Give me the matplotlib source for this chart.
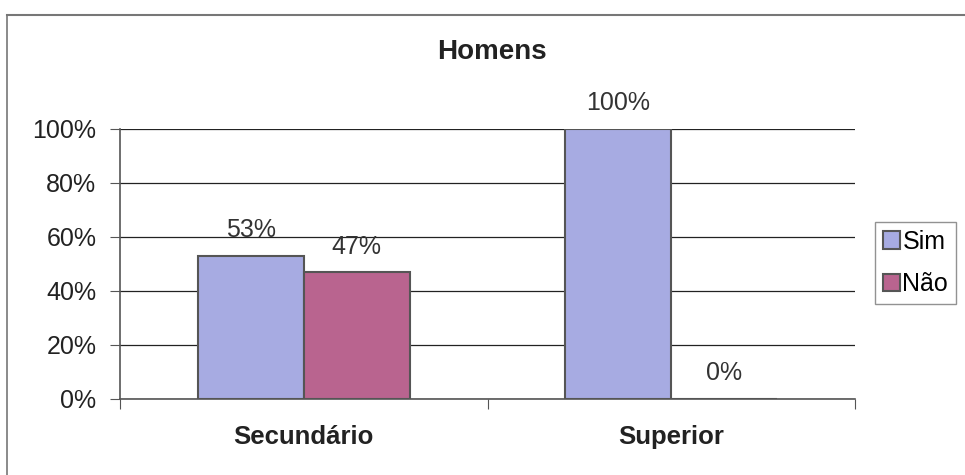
import numpy as np
import matplotlib
matplotlib.use("Agg")
import matplotlib.pyplot as plt
from matplotlib.lines import Line2D

plt.rcParams["font.family"] = ["Liberation Sans", "DejaVu Sans"]

# data
categories = ["Secundário", "Superior"]
series_names = ["Sim", "Não"]
sim_values = [53, 100]
nao_values = [47, 0]
y_ticks = [0, 20, 40, 60, 80, 100]

COLORS = {"Sim": "#A7ABE2", "Não": "#B9648F"}

W, H = 965, 475
fig = plt.figure(figsize=(W / 100, H / 100), dpi=100)

# plot area in pixels: x 120..855, y 129 (100%)..399 (0%)
ax = fig.add_axes([120 / W, 1 - 399 / H, (855 - 120) / W, (399 - 129) / H])

x = np.arange(len(categories))
bw = 0.289
edge = "#555555"
ax.bar(x - bw / 2, sim_values, width=bw, color=COLORS["Sim"], edgecolor=edge, linewidth=1.5, label=series_names[0], zorder=3)
ax.bar(x + bw / 2, nao_values, width=bw, color=COLORS["Não"], edgecolor=edge, linewidth=1.5, label=series_names[1], zorder=3)

# value labels
for i in range(len(categories)):
    ax.text(x[i] - bw / 2, sim_values[i] + 5, f"{sim_values[i]}%", ha="center", va="bottom", fontsize=18, color="#333333")
    ax.text(x[i] + bw / 2, nao_values[i] + 5, f"{nao_values[i]}%", ha="center", va="bottom", fontsize=18, color="#333333")

ax.set_xlim(-0.5, len(categories) - 0.5)
ax.set_ylim(0, 100)
ax.set_yticks(y_ticks)
ax.set_yticklabels([f"{t}%" for t in y_ticks], fontsize=18, color="#222222")
ax.yaxis.grid(True, color="#222222", linewidth=0.9, zorder=0)
ax.set_axisbelow(True)

# category boundary ticks
ax.set_xticks([-0.5, 0.5, 1.5])
ax.set_xticklabels([])
ax.set_xticks(x, minor=True)
ax.set_xticklabels(categories, minor=True, fontsize=18.5, fontweight="bold", color="#222222")
ax.tick_params(axis="x", which="minor", length=0, pad=19)
ax.tick_params(axis="x", which="major", length=7, color="#555555")
ax.tick_params(axis="y", length=7, color="#555555", pad=10)

for s in ["top", "right"]:
    ax.spines[s].set_visible(False)
for s in ["left", "bottom"]:
    ax.spines[s].set_color("#555555")
    ax.spines[s].set_linewidth(1.2)

fig.text(492 / W, 1 - 52 / H, "Homens", ha="center", va="center", fontsize=20, fontweight="bold", color="#222222")

leg = fig.legend(loc="upper left", bbox_to_anchor=(875 / W, 1 - 222 / H), fontsize=18,
                 frameon=True, fancybox=False, edgecolor="#777777", handlelength=0.7, handleheight=0.7,
                 handletextpad=0.1, borderpad=0.3, labelspacing=0.75, borderaxespad=0)
leg.get_frame().set_linewidth(1.0)

# outer chart border (left and top edges visible)
fig.add_artist(Line2D([7 / W, 7 / W], [0, 1 - 15 / H], transform=fig.transFigure, color="#777777", linewidth=1.2))
fig.add_artist(Line2D([7 / W, 1], [1 - 15 / H, 1 - 15 / H], transform=fig.transFigure, color="#777777", linewidth=1.5))

fig.savefig("out.png", dpi=100)
